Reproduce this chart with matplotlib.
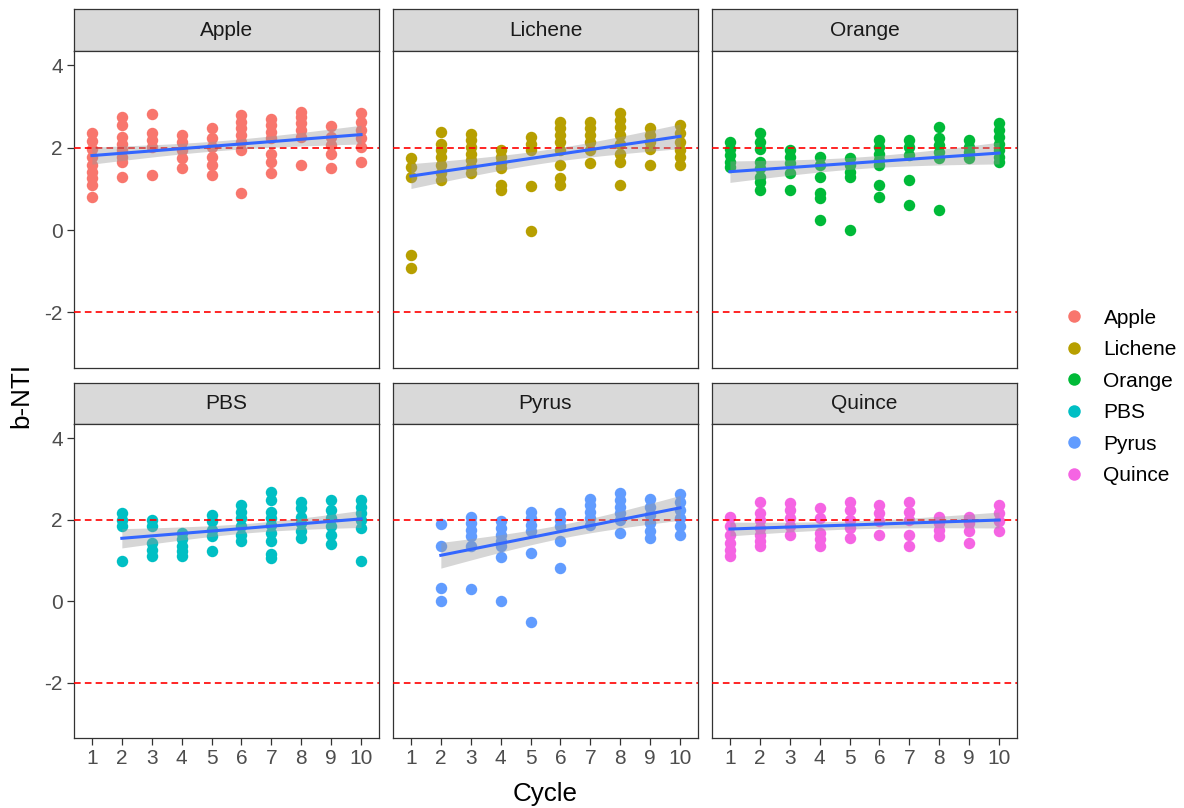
import numpy as np
import matplotlib
matplotlib.use("Agg")
import matplotlib.pyplot as plt
from matplotlib.lines import Line2D

plt.rcParams['font.family'] = ['Liberation Sans', 'DejaVu Sans']
plt.rcParams['axes.unicode_minus'] = False

# ---- data: b-NTI values per cycle (index 0 -> cycle 1) ----
groups = ["Apple", "Lichene", "Orange", "PBS", "Pyrus", "Quince"]
colors = ["#F8766D", "#B79F00", "#00BA38", "#00BFC4", "#619CFF", "#F564E3"]
cycles = [1, 2, 3, 4, 5, 6, 7, 8, 9, 10]
y_ticks = [-2, 0, 2, 4]
thresholds = [-2, 2]

apple = [
    [2.35, 2.17, 1.98, 1.78, 1.58, 1.42, 1.26, 1.10, 0.81],
    [2.75, 2.55, 2.27, 2.10, 1.94, 1.78, 1.66, 1.30],
    [2.83, 2.35, 2.19, 2.02, 1.34],
    [2.31, 2.15, 1.94, 1.74, 1.50],
    [2.49, 2.23, 2.02, 1.78, 1.58, 1.34],
    [2.79, 2.63, 2.47, 2.31, 2.15, 1.94, 0.90],
    [2.71, 2.55, 2.39, 2.23, 1.86, 1.66, 1.38],
    [2.87, 2.75, 2.59, 2.43, 2.27, 1.58],
    [2.52, 2.27, 2.06, 1.86, 1.50],
    [2.85, 2.63, 2.43, 2.23, 2.02, 1.66],
]
lichene = [
    [1.74, 1.54, 1.30, -0.60, -0.92],
    [2.39, 2.10, 1.94, 1.78, 1.58, 1.38, 1.22],
    [2.33, 2.19, 2.02, 1.86, 1.70, 1.54, 1.38],
    [1.94, 1.78, 1.62, 1.50, 1.10, 0.98],
    [2.27, 2.10, 1.94, 1.06, -0.03],
    [2.63, 2.47, 2.31, 2.15, 1.94, 1.58, 1.26, 1.10],
    [2.63, 2.47, 2.31, 2.15, 1.94, 1.62],
    [2.85, 2.67, 2.51, 2.31, 2.10, 1.86, 1.66, 1.10],
    [2.47, 2.31, 2.15, 1.98, 1.58],
    [2.55, 2.35, 2.15, 1.94, 1.78, 1.58],
]
orange = [
    [2.15, 1.98, 1.82, 1.66, 1.54],
    [2.35, 2.15, 1.98, 1.66, 1.50, 1.30, 1.18, 0.98],
    [1.94, 1.78, 1.62, 1.38, 0.98],
    [1.78, 1.58, 1.30, 0.90, 0.77, 0.25],
    [1.74, 1.58, 1.42, 1.30, 0.01],
    [2.19, 2.02, 1.86, 1.70, 1.58, 1.10, 0.81],
    [2.19, 2.02, 1.82, 1.22, 0.61],
    [2.51, 2.23, 2.06, 1.90, 1.74, 0.49],
    [2.19, 2.02, 1.90, 1.74],
    [2.59, 2.43, 2.27, 2.10, 1.94, 1.78, 1.66],
]
pbs = [
    [],
    [2.16, 2.00, 1.84, 0.99],
    [2.00, 1.84, 1.44, 1.27, 1.11],
    [1.68, 1.52, 1.35, 1.23, 1.11],
    [2.12, 1.96, 1.76, 1.60, 1.23],
    [2.36, 2.20, 2.04, 1.84, 1.64, 1.48],
    [2.69, 2.48, 2.20, 2.04, 1.88, 1.68, 1.48, 1.15, 1.07],
    [2.44, 2.28, 2.08, 1.92, 1.72, 1.56],
    [2.48, 2.24, 2.04, 1.84, 1.64, 1.40],
    [2.48, 2.32, 2.16, 2.00, 1.80, 0.99],
]
pyrus = [
    [],
    [1.90, 1.37, 0.32, 0.00],
    [2.08, 1.92, 1.76, 1.60, 1.35, 0.31],
    [1.96, 1.80, 1.64, 1.48, 1.35, 1.10, 0.02],
    [2.20, 2.04, 1.88, 1.72, 1.19, -0.50],
    [2.16, 2.00, 1.84, 1.48, 0.81],
    [2.52, 2.36, 2.20, 2.04, 1.88],
    [2.65, 2.48, 2.32, 2.16, 2.00, 1.68],
    [2.52, 2.32, 2.12, 1.92, 1.72, 1.56],
    [2.63, 2.44, 2.24, 2.04, 1.84, 1.64],
]
quince = [
    [2.08, 1.84, 1.64, 1.44, 1.27, 1.11],
    [2.44, 2.16, 2.00, 1.80, 1.64, 1.48, 1.35],
    [2.42, 2.24, 2.04, 1.84, 1.64],
    [2.28, 2.04, 1.68, 1.52, 1.35],
    [2.44, 2.24, 2.00, 1.80, 1.56],
    [2.36, 2.16, 1.96, 1.64],
    [2.44, 2.20, 2.00, 1.64, 1.35],
    [2.08, 1.92, 1.76, 1.60],
    [2.08, 1.92, 1.72, 1.44],
    [2.36, 2.16, 1.96, 1.72],
]
series = [apple, lichene, orange, pbs, pyrus, quince]

W, H = 1184, 808
fig = plt.figure(figsize=(W / 100, H / 100), dpi=100)


def box(x, y, w, h):
    return [x / W, 1 - (y + h) / H, w / W, h / H]


def t_quantile(df):
    # Cornish-Fisher approximation of the 97.5% Student t quantile
    z = 1.959964
    return (z + (z ** 3 + z) / (4 * df)
            + (5 * z ** 5 + 16 * z ** 3 + 3 * z) / (96 * df ** 2))


col_left = [74, 393, 712]
panel_w = 305
rows = [  # (strip top, panel top, panel bottom)
    (9, 51, 368),
    (383, 424, 738),
]
border = "#333333"

for i, (name, col, data) in enumerate(zip(groups, colors, series)):
    r, c = divmod(i, 3)
    st, pt, pb = rows[r]
    x0 = col_left[c]

    # strip
    sax = fig.add_axes(box(x0, st, panel_w, pt - st))
    sax.set_facecolor("#D9D9D9")
    sax.set_xticks([])
    sax.set_yticks([])
    for sp in sax.spines.values():
        sp.set_color(border)
        sp.set_linewidth(0.9)
    sax.text(0.5, 0.5, name, ha="center", va="center", fontsize=15,
             color="#1A1A1A", transform=sax.transAxes)

    ax = fig.add_axes(box(x0, pt, panel_w, pb - pt))
    xs = np.concatenate([[cy] * len(v) for cy, v in zip(cycles, data)]).astype(float)
    ys = np.concatenate([v for v in data]).astype(float)

    ax.scatter(xs, ys, s=68, color=col, linewidths=0, zorder=2)
    for t in thresholds:
        ax.axhline(t, color="red", lw=1.2, dashes=(4, 2.5), zorder=3)

    # linear fit with 95% confidence band
    n = len(xs)
    slope, inter = np.polyfit(xs, ys, 1)
    resid = ys - (slope * xs + inter)
    s_err = np.sqrt(np.sum(resid ** 2) / (n - 2))
    xbar = xs.mean()
    sxx = np.sum((xs - xbar) ** 2)
    xg = np.linspace(xs.min(), xs.max(), 80)
    yg = slope * xg + inter
    half = t_quantile(n - 2) * s_err * np.sqrt(1 / n + (xg - xbar) ** 2 / sxx)
    ax.fill_between(xg, yg - half, yg + half, color="#999999", alpha=0.4,
                    linewidth=0, zorder=4)
    ax.plot(xg, yg, color="#3366FF", lw=2.2, zorder=5)

    ax.set_xlim(0.4, 10.6)
    ax.set_ylim(-3.35, 4.35)
    ax.set_xticks(cycles)
    ax.set_yticks(y_ticks)
    for sp in ax.spines.values():
        sp.set_color(border)
        sp.set_linewidth(0.9)
    ax.tick_params(axis="both", length=5, width=0.9, color=border,
                   labelsize=15, labelcolor="#4D4D4D", pad=3)
    if c == 0:
        ax.set_yticklabels([str(v) for v in y_ticks])
    else:
        ax.tick_params(axis="y", left=False, labelleft=False)
    if r == 1:
        ax.set_xticklabels([str(v) for v in cycles])
    else:
        ax.tick_params(axis="x", bottom=False, labelbottom=False)

fig.text(21 / W, 1 - 395 / H, "b-NTI", rotation=90, ha="center", va="center",
         fontsize=18.7, color="black")
fig.text(545.5 / W, 1 - 801 / H, "Cycle", ha="center", va="baseline",
         fontsize=18.7, color="black")

handles = [Line2D([], [], marker="o", linestyle="none", markersize=9,
                  markerfacecolor=cl, markeredgewidth=0) for cl in colors]
fig.legend(handles, groups, loc="center left",
           bbox_to_anchor=(1066 / W, 1 - 397 / H), frameon=False,
           fontsize=15, handlelength=0.8, handletextpad=1.0,
           labelspacing=0.6, borderpad=0, borderaxespad=0)

fig.savefig("out.png", dpi=100)
